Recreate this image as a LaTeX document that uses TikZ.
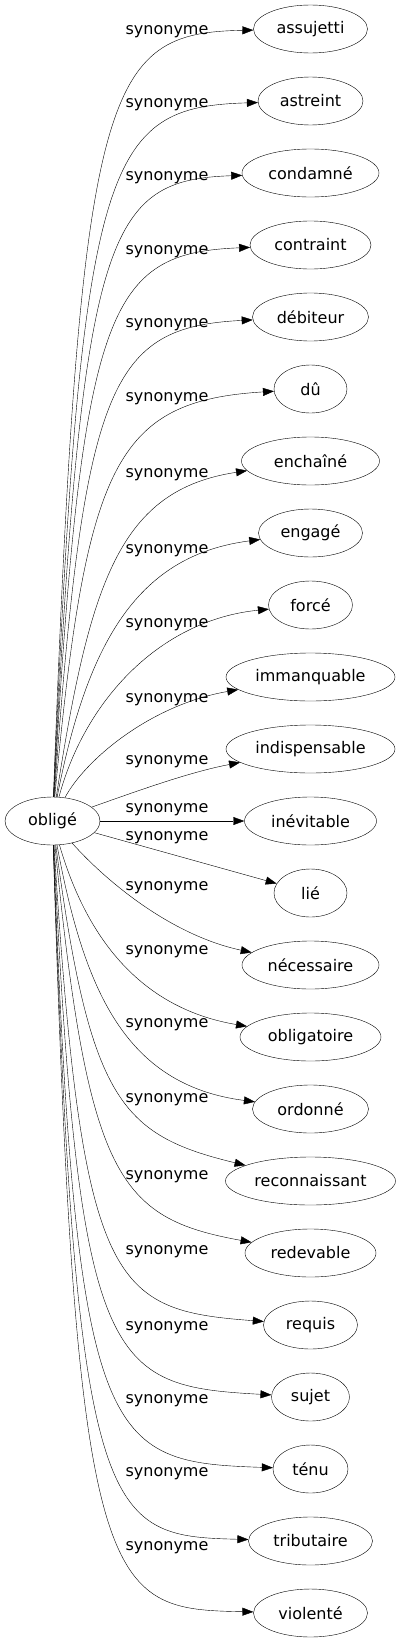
\documentclass[tikz,border=0pt]{standalone}
\usepackage{fontspec}
\setmainfont{DejaVu Sans}
\usetikzlibrary{arrows.meta,shapes.geometric}
\tikzset{
    -{Triangle[length=11pt,width=8pt]},x=1pt,y=-1pt,line width=1pt,
    state/.style ={ellipse, draw, minimum height=48pt, inner xsep=0pt, inner ysep=2pt},
    el/.style = {inner sep=0pt}
}
\begin{document}
\fontsize{16pt}{19pt}\selectfont
\begin{tikzpicture}
    \useasboundingbox (0,0) rectangle (401,1643);
    \node[state,minimum width=95pt] (0) at (52.5,821) {obligé};

    \node[state,minimum width=114pt] (1) at (310.5,29) {assujetti};
    \node[state,minimum width=105pt] (2) at (310.5,101) {astreint};
    \node[state,minimum width=137pt] (3) at (310.5,173) {condamné};
    \node[state,minimum width=121pt] (4) at (310.5,245) {contraint};
    \node[state,minimum width=116pt] (5) at (310.5,317) {débiteur};
    \node[state,minimum width=73pt] (6) at (310.5,389) {dû};
    \node[state,minimum width=138pt] (7) at (310.5,461) {enchaîné};
    \node[state,minimum width=104pt] (8) at (310.5,533) {engagé};
    \node[state,minimum width=84pt] (9) at (310.5,605) {forcé};
    \node[state,minimum width=169pt] (10) at (310.5,677) {immanquable};
    \node[state,minimum width=169pt] (11) at (310.5,749) {indispensable};
    \node[state,minimum width=132pt] (12) at (310.5,821) {inévitable};
    \node[state,minimum width=73pt] (13) at (310.5,893) {lié};
    \node[state,minimum width=137pt] (14) at (310.5,965) {nécessaire};
    \node[state,minimum width=141pt] (15) at (310.5,1037) {obligatoire};
    \node[state,minimum width=116pt] (16) at (310.5,1109) {ordonné};
    \node[state,minimum width=170pt] (17) at (310.5,1181) {reconnaissant};
    \node[state,minimum width=131pt] (18) at (310.5,1253) {redevable};
    \node[state,minimum width=94pt] (19) at (310.5,1325) {requis};
    \node[state,minimum width=78pt] (20) at (310.5,1397) {sujet};
    \node[state,minimum width=75pt] (21) at (310.5,1469) {ténu};
    \node[state,minimum width=124pt] (22) at (310.5,1541) {tributaire};
    \node[state,minimum width=114pt] (23) at (310.5,1613) {violenté};

    \node[el] (l1) at (167,32) {synonyme};
    \node[el] (l2) at (167,105) {synonyme};
    \node[el] (l3) at (167,178) {synonyme};
    \node[el] (l4) at (167,252) {synonyme};
    \node[el] (l5) at (167,325) {synonyme};
    \node[el] (l6) at (167,399) {synonyme};
    \node[el] (l7) at (167,475) {synonyme};
    \node[el] (l8) at (167,551) {synonyme};
    \node[el] (l9) at (167,625) {synonyme};
    \node[el] (l10) at (167,700) {synonyme};
    \node[el] (l11) at (167,762) {synonyme};
    \node[el] (l12) at (167,810) {synonyme};
    \node[el] (l13) at (167,838) {synonyme};
    \node[el] (l14) at (167,888) {synonyme};
    \node[el] (l15) at (167,952) {synonyme};
    \node[el] (l16) at (167,1025) {synonyme};
    \node[el] (l17) at (167,1100) {synonyme};
    \node[el] (l18) at (167,1177) {synonyme};
    \node[el] (l19) at (167,1252) {synonyme};
    \node[el] (l20) at (167,1328) {synonyme};
    \node[el] (l21) at (167,1401) {synonyme};
    \node[el] (l22) at (167,1474) {synonyme};
    \node[el] (l23) at (167,1548) {synonyme};

    \draw (0) .. controls (80,80) and (105,33) .. (1);
    \draw (0) .. controls (81,155) and (106,107) .. (2);
    \draw (0) .. controls (82,230) and (107,180) .. (3);
    \draw (0) .. controls (82,305) and (108,253) .. (4);
    \draw (0) .. controls (84,383) and (110,327) .. (5);
    \draw (0) .. controls (86,464) and (115,401) .. (6);
    \draw (0) .. controls (90,580) and (120,490) .. (7);
    \draw (0) .. controls (88,638) and (140,555) .. (8);
    \draw (0) .. controls (85,700) and (160,620) .. (9);
    \draw (0) .. controls (85,760) and (150,705) .. (10);
    \draw (0) .. controls (140,790) and (190,772) .. (11);
    \draw (0) -- (12);
    \draw (0) -- (13);
    \draw (0) .. controls (105,880) and (170,935) .. (14);
    \draw (0) .. controls (90,950) and (150,1010) .. (15);
    \draw (0) .. controls (84,990) and (125,1085) .. (16);
    \draw (0) .. controls (90,1100) and (120,1135) .. (17);
    \draw (0) .. controls (88,1178) and (118,1218) .. (18);
    \draw (0) .. controls (82,1290) and (112,1310) .. (19);
    \draw (0) .. controls (79,1370) and (108,1386) .. (20);
    \draw (0) .. controls (76,1450) and (105,1462) .. (21);
    \draw (0) .. controls (76,1526) and (105,1536) .. (22);
    \draw (0) .. controls (76,1601) and (105,1609) .. (23);
\end{tikzpicture}
\end{document}
